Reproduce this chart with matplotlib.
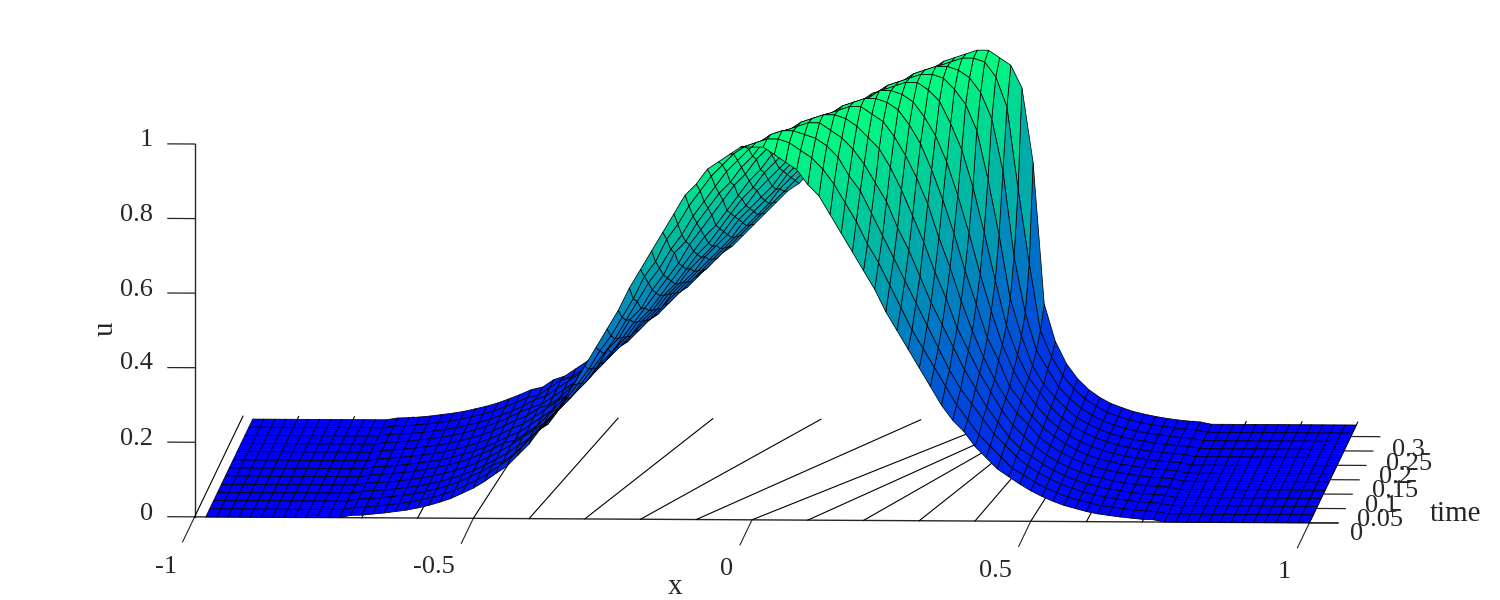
import numpy as np
import matplotlib
matplotlib.use("Agg")
import matplotlib.pyplot as plt

plt.rcParams['font.family'] = ['Liberation Serif', 'DejaVu Serif']

# x nodes of the mesh
x_nodes = [-0.98, -0.96, -0.94, -0.92, -0.90, -0.88, -0.86, -0.84, -0.82, -0.80, -0.78, -0.76, -0.74,
           -0.72, -0.70, -0.68, -0.66, -0.64, -0.62, -0.60, -0.58, -0.56, -0.54, -0.52, -0.50,
           -0.48, -0.46, -0.44, -0.42, -0.40, -0.38, -0.36, -0.34, -0.32, -0.30, -0.28, -0.26,
           -0.24, -0.22, -0.20, -0.18, -0.16, -0.14, -0.12, -0.10, -0.08, -0.06, -0.04, -0.02,
           0.00,
           0.02, 0.04, 0.06, 0.08, 0.10, 0.12, 0.14, 0.16, 0.18, 0.20, 0.22, 0.24,
           0.26, 0.28, 0.30, 0.32, 0.34, 0.36, 0.38, 0.40, 0.42, 0.44, 0.46, 0.48,
           0.50, 0.52, 0.54, 0.56, 0.58, 0.60, 0.62, 0.64, 0.66, 0.68, 0.70, 0.72,
           0.74, 0.76, 0.78, 0.80, 0.82, 0.84, 0.86, 0.88, 0.90, 0.92, 0.94, 0.96, 0.98, 1.00]
t_nodes = [0, 0.028, 0.057, 0.085, 0.113, 0.142, 0.17, 0.198, 0.227, 0.255, 0.283, 0.312, 0.34]

# left foot of the wave, x from -0.72 to -0.48
foot_a = [.006,.007,.010,.013,.017,.021,.027,.034,.043,.053,.067,.081,.099]
foot_b = [.005,.007,.009,.012,.016,.020,.026,.033,.041,.051,.063,.077,.093]
foot_c = [.005,.006,.009,.012,.016,.020,.025,.032,.040,.049,.060,.073,.088]
foot_d = [.005,.006,.008,.011,.015,.019,.024,.031,.038,.047,.058,.070,.083]

# u, x from -0.46 to 0.46
u_t00 = [.12,.14,.17,.20,.24,.27,.31,.36,.41,.46,.51,.56,.62,.67,.72,.77,.82,.87,.90,.94,.96,.98,1.00,
         1.00,
         1.00,.98,.96,.94,.90,.87,.82,.77,.72,.67,.62,.56,.51,.46,.41,.36,.31,.27,.24,.20,.17,.14,.12]
u_t01 = [.12,.14,.17,.20,.23,.26,.30,.34,.38,.43,.47,.52,.57,.63,.67,.73,.77,.82,.86,.90,.93,.96,.98,
         .99,
         1.00,1.00,.99,.97,.95,.92,.88,.83,.78,.72,.67,.61,.55,.49,.44,.39,.34,.29,.25,.21,.18,.15,.12]
u_t02 = [.11,.13,.16,.19,.21,.25,.28,.32,.36,.40,.44,.49,.54,.59,.63,.68,.72,.77,.81,.85,.89,.92,.95,
         .97,
         .99,1.00,1.00,.99,.98,.96,.93,.88,.84,.78,.72,.66,.60,.54,.48,.42,.36,.31,.27,.23,.19,.16,.13]
u_t03 = [.11,.13,.15,.18,.21,.24,.27,.30,.34,.39,.42,.47,.50,.55,.59,.65,.68,.73,.77,.81,.84,.88,.91,
         .95,
         .96,.98,.99,1.00,1.00,.98,.96,.93,.89,.84,.79,.72,.66,.59,.52,.46,.40,.34,.29,.24,.20,.16,.13]
u_t04 = [.11,.13,.15,.17,.20,.23,.26,.29,.33,.36,.40,.44,.48,.52,.56,.60,.65,.69,.73,.77,.81,.84,.88,
         .91,
         .93,.96,.98,.99,1.00,1.00,.99,.97,.94,.91,.86,.80,.73,.66,.58,.51,.43,.37,.31,.26,.21,.17,.14]
u_t05 = [.10,.12,.14,.17,.19,.22,.25,.28,.31,.35,.38,.42,.45,.49,.53,.57,.61,.65,.68,.72,.76,.80,.83,
         .87,
         .90,.93,.95,.97,.98,.99,1.00,1.00,.98,.96,.92,.87,.81,.74,.65,.57,.48,.40,.33,.27,.22,.18,.15]
u_t06 = [.10,.12,.14,.16,.19,.21,.24,.27,.30,.33,.36,.40,.43,.47,.50,.54,.58,.61,.65,.69,.73,.76,.80,
         .83,
         .86,.90,.92,.95,.96,.98,.99,1.00,1.00,.99,.97,.93,.88,.81,.73,.64,.54,.45,.36,.30,.23,.19,.15]
u_t07 = [.10,.12,.14,.16,.18,.21,.23,.26,.29,.32,.35,.38,.41,.45,.48,.52,.55,.58,.62,.66,.69,.73,.76,
         .79,
         .82,.86,.89,.91,.94,.96,.97,.98,1.00,1.00,.99,.97,.93,.88,.81,.72,.62,.51,.41,.32,.25,.20,.16]
u_t08 = [.10,.12,.13,.15,.18,.20,.22,.25,.28,.30,.33,.36,.39,.43,.46,.49,.53,.56,.59,.63,.66,.69,.72,
         .76,
         .79,.82,.85,.88,.91,.93,.95,.97,.98,.99,1.00,1.00,.98,.95,.89,.82,.72,.60,.47,.35,.27,.21,.17]
u_t09 = [.10,.11,.13,.15,.17,.19,.22,.24,.27,.29,.32,.35,.38,.41,.44,.47,.50,.53,.56,.60,.63,.66,.69,
         .73,
         .76,.79,.82,.85,.88,.90,.93,.95,.97,.98,.99,1.00,1.00,.99,.96,.92,.85,.72,.57,.40,.30,.22,.17]
u_t10 = [.10,.11,.13,.15,.17,.19,.21,.23,.26,.28,.31,.33,.36,.39,.42,.45,.48,.51,.54,.57,.60,.63,.67,
         .70,
         .73,.76,.79,.82,.85,.87,.90,.92,.94,.96,.98,.99,1.00,1.00,.99,.97,.93,.86,.72,.49,.34,.24,.19]
u_t11 = [.09,.11,.13,.14,.16,.18,.20,.23,.25,.27,.30,.32,.35,.38,.41,.43,.46,.49,.52,.55,.58,.61,.64,
         .67,
         .70,.73,.76,.78,.81,.84,.87,.89,.91,.93,.95,.97,.98,.99,1.00,1.00,.99,.95,.87,.65,.45,.27,.20]
u_t12 = [.09,.11,.12,.14,.16,.18,.20,.22,.24,.26,.29,.31,.34,.36,.39,.42,.45,.47,.50,.53,.56,.59,.62,
         .64,
         .67,.70,.73,.76,.79,.81,.84,.86,.89,.91,.93,.95,.97,.98,.99,1.00,1.00,.98,.96,.90,.70,.32,.22]

# right foot of the wave, x from 0.48 to 0.72
tail_t00 = [.100,.082,.067,.054,.043,.035,.027,.021,.017,.013,.010,.007,.006]
tail_t01 = [.103,.084,.068,.055,.044,.035,.028,.021,.017,.013,.010,.008,.006]
tail_t02 = [.105,.086,.070,.056,.045,.036,.028,.022,.017,.013,.010,.008,.006]
tail_t03 = [.109,.088,.071,.057,.045,.036,.028,.022,.017,.013,.010,.008,.006]
tail_t04 = [.113,.091,.073,.058,.046,.036,.029,.022,.017,.013,.010,.008,.006]
tail_t05 = [.117,.093,.075,.059,.047,.037,.029,.023,.018,.014,.010,.008,.006]
tail_t06 = [.120,.097,.077,.060,.047,.037,.030,.023,.018,.014,.011,.008,.006]
tail_t07 = [.125,.099,.078,.061,.048,.038,.030,.023,.018,.014,.011,.008,.006]
tail_t08 = [.131,.102,.080,.063,.049,.039,.030,.024,.018,.014,.011,.008,.006]
tail_t09 = [.136,.106,.082,.064,.050,.039,.031,.024,.019,.014,.011,.008,.006]
tail_t10 = [.142,.110,.085,.066,.051,.040,.031,.024,.019,.015,.011,.008,.006]
tail_t11 = [.150,.115,.088,.068,.052,.041,.032,.025,.019,.015,.011,.008,.006]
tail_t12 = [.160,.120,.091,.070,.054,.043,.033,.026,.020,.015,.011,.008,.006]

u_rows = [foot_a + u_t00 + tail_t00, foot_a + u_t01 + tail_t01, foot_a + u_t02 + tail_t02,
          foot_b + u_t03 + tail_t03, foot_b + u_t04 + tail_t04, foot_b + u_t05 + tail_t05,
          foot_c + u_t06 + tail_t06, foot_c + u_t07 + tail_t07, foot_c + u_t08 + tail_t08,
          foot_c + u_t09 + tail_t09, foot_d + u_t10 + tail_t10, foot_d + u_t11 + tail_t11,
          foot_d + u_t12 + tail_t12]

# floor lines: start at t=0, end at the back of the box
fan_start = [-1.0, -0.9, -0.8, -0.7, -0.6, -0.5, -0.4, -0.3, -0.2, -0.1, 0.0,
             0.1, 0.2, 0.3, 0.4, 0.5, 0.6, 0.7, 0.8, 0.9, 1.0]
fan_end = [-1.0, -0.9, -0.8, -0.695, -0.59, -0.47, -0.327, -0.157, 0.037, 0.216, 0.36,
           0.41, 0.428, 0.44, 0.468, 0.528, 0.61, 0.705, 0.8, 0.9, 1.0]
fan_t_end = 0.35

x_ticks = [-1, -0.5, 0, 0.5, 1]
z_ticks = [0, 0.2, 0.4, 0.6, 0.8, 1]
t_ticks = [0, 0.05, 0.1, 0.15, 0.2, 0.25, 0.3]

line_col = '#262626'
txt_col = '#262626'

fig = plt.figure(figsize=(15, 6), dpi=100)
W = 1453.5
ax = fig.add_axes([29.1 / 1500, -430.9 / 600, W / 1500, W / 600],
                  projection='3d', proj_type='ortho', computed_zorder=False)
ax.view_init(elev=6.08, azim=-87.09)
ax.set_box_aspect((1116.4, 925, 375))
ax.set_xlim(-1, 1)
ax.set_ylim(0, 0.34)
ax.set_zlim(0, 1)
ax.set_axis_off()

# axis lines and ticks
ax.plot([-1, 1.05], [0, 0], [0, 0], color=line_col, lw=1, zorder=1)
ax.plot([-1, -1], [0, 0], [0, 1], color=line_col, lw=1, zorder=1)
for z in z_ticks:
    ax.plot([-1.048, -1], [0, 0], [z, z], color=line_col, lw=0.9, zorder=1)
for t in t_ticks:
    ax.plot([1, 1.052], [t, t], [0, 0], color=line_col, lw=0.9, zorder=1)
for x in x_ticks:
    ax.plot([x, x], [-0.087, 0], [0, 0], color=line_col, lw=0.8, zorder=1)
for x0, x1 in zip(fan_start, fan_end):
    ax.plot([x0, x1], [0, fan_t_end], [0, 0], color='k', lw=0.8, zorder=1)

# surface
X, T = np.meshgrid(x_nodes, t_nodes)
U = np.array([[0.0] * 13 + r + [0.0] * 14 for r in u_rows])
ax.plot_surface(X, T, U, cmap='winter', vmin=0, vmax=1, rstride=1, cstride=1,
                edgecolor='k', linewidth=0.55, shade=False, zorder=2)


def px_text(x, y, s, fs=19, **kw):
    fig.text(x / 1500, 1 - y / 600, s, color=txt_col, fontsize=fs, **kw)


for s, y in zip(['0', '0.2', '0.4', '0.6', '0.8', '1'], [514, 439, 363, 290, 215, 140]):
    px_text(153, y, s, ha='right', va='center')
for s, x, y in zip(['-1', '-0.5', '0', '0.5', '1'], [166, 434, 727, 995, 1284], [567, 567, 569, 571, 572]):
    px_text(x, y, s, ha='center', va='center')
for s, x, y in zip(['0', '0.05', '0.1', '0.15', '0.2', '0.25', '0.3'],
                   [1350, 1357, 1365, 1372, 1379, 1386, 1392],
                   [534, 520, 506, 491, 477, 464, 450]):
    px_text(x, y, s, ha='left', va='center')
px_text(675, 587, 'x', fs=21, ha='center', va='center')
px_text(106, 329, 'u', fs=21, ha='center', va='center', rotation=90)
px_text(1455, 514, 'time', fs=21, ha='center', va='center')

fig.savefig('out.png', dpi=100)
